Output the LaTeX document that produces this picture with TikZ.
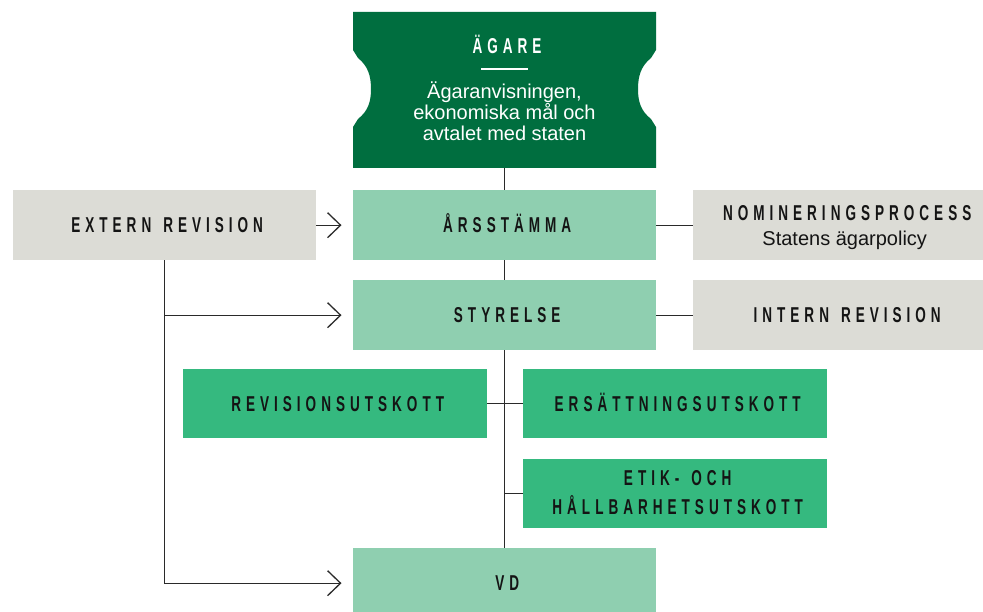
\documentclass[tikz,border=0pt]{standalone}
\usepackage{fontspec}
\setmainfont{Liberation Sans}
\newfontfamily\capsfont[FakeStretch=0.63]{Liberation Sans Bold}
\usetikzlibrary{arrows.meta}
\definecolor{dkgreen}{HTML}{006E3F}
\definecolor{ltgreen}{HTML}{8FCFB0}
\definecolor{mdgreen}{HTML}{35B97F}
\definecolor{gry}{HTML}{DCDCD6}
\definecolor{ink}{HTML}{141414}
\definecolor{linec}{HTML}{2A2A2A}
% manual letter spacing
\def\spacedA#1{\ifx#1\relax\else#1\hspace{5bp}\expandafter\spacedA\fi}
\newcommand\capstext[1]{\hspace*{5bp}\spacedA#1\relax}
\newcommand\wsp{\hspace{2bp}}
\tikzset{
  capsty/.style={font=\capsfont\fontsize{21.5bp}{24bp}\selectfont, text=ink, text height=14.8bp, text depth=0pt, inner sep=0pt},
  box/.style={capsty, minimum width=303bp, minimum height=70bp, anchor=north west},
  gbox/.style={box, fill=gry},
  lbox/.style={box, fill=ltgreen},
  mbox/.style={box, fill=mdgreen},
  bodytext/.style={font=\fontsize{20bp}{21bp}\selectfont, inner sep=0pt, anchor=base},
  conn/.style={draw=linec, line width=1.3bp},
  arr/.style={conn, -{Straight Barb[length=13bp,width=25bp]}},
}
\begin{document}
\begin{tikzpicture}[x=1bp,y=-1bp]
\clip (0,0) rectangle (983,612);
\fill[white] (0,0) rectangle (983,612);
% Ägare shape
\fill[dkgreen] (353,12) -- (656,12) -- (656,50) -- (651,58)
  .. controls (641,66) and (638,76) .. (638,89)
  .. controls (638,102) and (641,111) .. (651,119) -- (656,127)
  -- (656,168) -- (353,168) -- (353,127) -- (358,119)
  .. controls (368,111) and (371,102) .. (371,89)
  .. controls (371,76) and (368,66) .. (358,58) -- (353,50) -- cycle;
\node[minimum width=303bp, minimum height=156bp, inner sep=0pt, anchor=north west] (agare) at (353,12) {};
\node[capsty, text=white] (agt) at (504.5,46) {\capstext{ÄGARE}};
\draw[white, line width=1.2bp] (481,69) -- (528,69);
\node[bodytext, text=white] (ag1) at (504.5,99) {Ägaranvisningen,};
\node[bodytext, text=white] (ag2) at (504.5,120) {ekonomiska mål och};
\node[bodytext, text=white] (ag3) at (504.5,141) {avtalet med staten};
% boxes
\node[gbox] (ext) at (13,190) {\capstext{EXTERN\wsp REVISION}};
\node[lbox] (arss) at (353,190) {\capstext{ÅRSSTÄMMA}};
\node[gbox] (nom) at (693,190) {};
\node[capsty] (nomt) at ([yshift=12bp]nom.center) {\capstext{NOMINERINGSPROCESS}};
\node[bodytext, text=ink] (nomb) at ([yshift=-20bp]nom.center) {Statens ägarpolicy};
\node[lbox] (styr) at (353,280) {\capstext{STYRELSE}};
\node[gbox] (intern) at (693,280) {\capstext{INTERN\wsp REVISION}};
\node[mbox, minimum width=304bp, minimum height=69bp] (revu) at (183,369) {\capstext{REVISIONSUTSKOTT}};
\node[mbox, minimum width=304bp, minimum height=69bp] (ers) at (523,369) {\capstext{ERSÄTTNINGSUTSKOTT}};
\node[mbox, minimum width=304bp, minimum height=69bp] (etik) at (523,459) {};
\node[capsty] (etik1) at ([yshift=15.5bp]etik.center) {\capstext{ETIK-\wsp OCH}};
\node[capsty] (etik2) at ([yshift=-13.5bp]etik.center) {\capstext{HÅLLBARHETSUTSKOTT}};
\node[lbox] (vd) at (353,548) {\capstext{VD}};
% connectors
\draw[conn] (agare.south) -- (arss.north);
\draw[conn] (arss.south) -- (styr.north);
\draw[conn] (styr.south) -- (vd.north);
\draw[conn] (revu.east) -- (ers.west);
\draw[conn] (etik.west) -- (etik.west -| styr.south);
\draw[conn] (arss.east) -- (nom.west);
\draw[conn] (styr.east) -- (intern.west);
\draw[arr] (ext.east) -- ([xshift=-11.5bp]arss.west);
\draw[arr] (ext.south) |- ([xshift=-11.5bp]vd.west);
\draw[arr] (ext.south |- styr.west) -- ([xshift=-11.5bp]styr.west);
\end{tikzpicture}
\end{document}
